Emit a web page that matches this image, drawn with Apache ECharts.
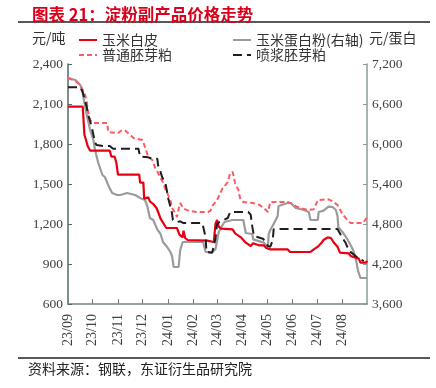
<!DOCTYPE html>
<html><head><meta charset="utf-8">
<script src="https://cdn.jsdelivr.net/npm/echarts@6/dist/echarts.min.js"></script>
<style>html,body{margin:0;padding:0;background:#fff}#c{width:436px;height:388px}</style>
</head><body><div id="c"></div>
<script>
// ---- Data ----
const monthTicks = ['2023-09-01','2023-10-01','2023-11-01','2023-12-01','2024-01-01','2024-02-01','2024-03-01','2024-04-01','2024-05-01','2024-06-01','2024-07-01','2024-08-01'];
const leftTicks = [600, 900, 1200, 1500, 1800, 2100, 2400];
const rightTicks = [3600, 4200, 4800, 5400, 6000, 6600, 7200];

// 玉米白皮 (left axis, 元/吨)
const redDates = ['2023-09-01','2023-09-19','2023-09-21','2023-09-23','2023-09-25','2023-09-28','2023-10-22','2023-10-24','2023-10-28','2023-10-30','2023-10-31','2023-11-01','2023-11-27','2023-11-28','2023-12-02','2023-12-03','2023-12-08','2023-12-10','2023-12-14','2023-12-18','2023-12-20','2023-12-23','2023-12-26','2023-12-30','2024-01-12','2024-01-15','2024-01-19','2024-01-20','2024-01-22','2024-01-25','2024-02-18','2024-02-26','2024-02-28','2024-03-01','2024-03-03','2024-03-06','2024-03-20','2024-03-23','2024-03-30','2024-04-05','2024-04-11','2024-04-14','2024-04-21','2024-04-27','2024-04-30','2024-05-05','2024-05-26','2024-05-29','2024-06-23','2024-06-27','2024-07-02','2024-07-06','2024-07-09','2024-07-14','2024-07-18','2024-07-21','2024-07-26','2024-07-29','2024-08-09','2024-08-11','2024-08-16','2024-08-21','2024-08-23','2024-08-30','2024-08-31'];
const redValues = [2080,2080,1870,1830,1785,1750,1750,1705,1705,1660,1660,1570,1570,1510,1510,1390,1400,1370,1350,1320,1290,1240,1210,1170,1170,1120,1100,1150,1095,1080,1075,1065,1200,1230,1180,1165,1160,1130,1100,1060,1035,1055,1040,1040,1020,1010,1010,990,990,1010,1030,1055,1080,1100,1095,1065,1030,985,980,960,950,940,910,910,925];

// 玉米蛋白粉 (right axis)
const grayDates = ['2023-09-01','2023-09-10','2023-09-16','2023-09-19','2023-09-21','2023-09-24','2023-09-28','2023-10-02','2023-10-04','2023-10-08','2023-10-13','2023-10-16','2023-10-22','2023-10-25','2023-10-31','2023-11-04','2023-11-06','2023-11-12','2023-11-22','2023-11-28','2023-12-04','2023-12-07','2023-12-10','2023-12-14','2023-12-19','2023-12-23','2023-12-26','2023-12-31','2024-01-04','2024-01-06','2024-01-08','2024-01-14','2024-01-16','2024-01-19','2024-02-13','2024-02-16','2024-02-24','2024-02-28','2024-03-03','2024-03-07','2024-03-10','2024-03-20','2024-04-02','2024-04-05','2024-04-13','2024-04-14','2024-04-27','2024-05-02','2024-05-03','2024-05-05','2024-05-09','2024-05-14','2024-05-15','2024-05-26','2024-05-30','2024-06-05','2024-06-15','2024-06-21','2024-06-23','2024-07-02','2024-07-03','2024-07-09','2024-07-15','2024-07-20','2024-07-24','2024-07-26','2024-07-27','2024-08-01','2024-08-05','2024-08-09','2024-08-14','2024-08-17','2024-08-20','2024-08-23','2024-08-31'];
const grayValues = [6990,6960,6885,6765,6615,6435,6210,6060,5910,5715,5535,5505,5330,5265,5235,5235,5265,5265,5235,5190,5160,5060,4890,4860,4720,4650,4530,4455,4380,4320,4155,4155,4410,4530,4530,4380,4380,4420,4680,4770,4830,4860,4860,4665,4650,4570,4520,4455,4650,4710,4800,4920,5070,5115,5115,5040,5010,4980,4860,4860,4980,5000,5060,5055,5010,4920,4750,4680,4610,4530,4410,4300,4100,3990,3990];

// 普通胚芽粕 (left axis)
const pinkDates = ['2023-09-01','2023-09-10','2023-09-16','2023-09-19','2023-09-22','2023-09-24','2023-09-25','2023-09-28','2023-10-02','2023-10-19','2023-10-20','2023-11-01','2023-11-06','2023-11-10','2023-11-16','2023-11-20','2023-12-01','2023-12-04','2023-12-08','2023-12-13','2023-12-16','2023-12-20','2023-12-26','2023-12-29','2024-01-01','2024-01-04','2024-01-06','2024-01-10','2024-01-12','2024-01-15','2024-01-16','2024-01-20','2024-01-26','2024-02-06','2024-02-19','2024-02-22','2024-02-25','2024-03-01','2024-03-05','2024-03-07','2024-03-14','2024-03-17','2024-03-20','2024-03-21','2024-03-23','2024-03-27','2024-03-29','2024-04-02','2024-04-14','2024-04-21','2024-04-27','2024-05-02','2024-05-05','2024-05-26','2024-05-30','2024-06-07','2024-06-20','2024-06-27','2024-07-02','2024-07-15','2024-07-20','2024-07-26','2024-08-01','2024-08-07','2024-08-11','2024-08-26','2024-08-30','2024-08-31'];
const pinkValues = [2295,2272,2242,2205,2165,2115,2055,1980,1957,1957,1890,1882,1905,1900,1867,1845,1830,1777,1702,1680,1627,1582,1510,1460,1420,1380,1320,1282,1252,1340,1357,1315,1300,1290,1290,1300,1342,1380,1432,1460,1515,1582,1590,1575,1507,1455,1395,1365,1357,1345,1320,1290,1365,1365,1355,1327,1305,1310,1380,1385,1370,1342,1275,1230,1207,1207,1240,1245];

// 喷浆胚芽粕 (left axis)
const blackDates = ['2023-09-01','2023-09-16','2023-09-19','2023-09-22','2023-09-24','2023-09-25','2023-09-28','2023-09-30','2023-10-02','2023-10-04','2023-10-06','2023-10-14','2023-10-22','2023-10-26','2023-11-26','2023-11-28','2023-12-08','2023-12-13','2023-12-19','2023-12-20','2023-12-23','2023-12-25','2023-12-29','2023-12-31','2024-01-01','2024-01-04','2024-01-06','2024-01-07','2024-01-12','2024-01-16','2024-01-20','2024-02-12','2024-02-14','2024-02-16','2024-02-17','2024-02-24','2024-02-26','2024-02-28','2024-03-01','2024-03-04','2024-03-14','2024-03-17','2024-04-08','2024-04-11','2024-04-13','2024-04-15','2024-04-26','2024-04-29','2024-05-02','2024-05-05','2024-05-08','2024-05-09','2024-05-14','2024-07-26','2024-07-27','2024-08-01','2024-08-05','2024-08-09','2024-08-11','2024-08-17','2024-08-23','2024-08-27'];
const blackValues = [2225,2225,2190,2115,2077,2032,1970,1927,1870,1810,1792,1785,1785,1765,1765,1705,1700,1690,1690,1640,1590,1550,1505,1440,1400,1330,1280,1230,1215,1220,1207,1207,1195,1100,990,985,1000,1090,1200,1215,1245,1290,1290,1270,1180,1110,1090,1065,1035,1030,1080,1160,1162,1162,1150,1095,1057,1000,990,960,937,922];

// ---- Build ----
function ts(s){ const p = s.split('-').map(Number); return new Date(p[0], p[1]-1, p[2]).getTime(); }
function zip(d, v){ return d.map((x, i) => [ts(x), v[i]]); }
const DAY = 864e5;

const serif = '"Liberation Serif","DejaVu Serif",serif';
const cjk = '"Noto Sans CJK SC","Noto Sans",sans-serif';

const legendBase = {orient: 'vertical', top: 28, itemWidth: 18, itemHeight: 10, itemGap: 1,
  itemStyle: {opacity: 0}, textStyle: {fontSize: 14, color: '#333', fontFamily: cjk}};

const chart = echarts.init(document.getElementById('c'), null, {renderer: 'canvas'});
chart.setOption({
  backgroundColor: '#fff',
  animation: false,
  title: {
    text: '图表 21：淀粉副产品价格走势',
    left: 27, top: 1,
    textStyle: {fontSize: 16.5, fontWeight: 'bold', color: '#d9001b', fontFamily: cjk}
  },
  legend: [
    Object.assign({data: ['玉米白皮', '普通胚芽粕'], left: 73}, legendBase),
    Object.assign({data: ['玉米蛋白粉(右轴)', '喷浆胚芽粕'], left: 227}, legendBase)
  ],
  grid: {left: 68, right: 69, top: 64, bottom: 84},
  xAxis: {
    type: 'time',
    min: ts(monthTicks[0]), max: ts('2024-08-31'),
    splitNumber: 12, minInterval: 28 * DAY, maxInterval: 31 * DAY,
    axisLine: {lineStyle: {color: '#6f8585', width: 1.5}},
    axisTick: {inside: true, length: 5, lineStyle: {color: '#6f8585'}},
    splitLine: {show: false},
    axisLabel: {
      rotate: 90, margin: 10, fontSize: 14, color: '#404040', fontFamily: serif,
      formatter: function (v) { const d = new Date(v); return String(d.getFullYear()).slice(2) + '/' + String(d.getMonth() + 1).padStart(2, '0'); }
    }
  },
  yAxis: [
    {type: 'value', position: 'left', min: leftTicks[0], max: leftTicks[leftTicks.length-1], interval: leftTicks[1]-leftTicks[0],
     axisLine: {show: true, lineStyle: {color: '#4f6a66', width: 1.5}},
     axisTick: {show: true, inside: true, length: 4, lineStyle: {color: '#4f6a66'}},
     splitLine: {show: false},
     axisLabel: {margin: 5, fontSize: 13.5, color: '#404040', fontFamily: serif, formatter: v => v.toLocaleString('en-US')}},
    {type: 'value', position: 'right', min: rightTicks[0], max: rightTicks[rightTicks.length-1], interval: rightTicks[1]-rightTicks[0],
     axisLine: {show: true, lineStyle: {color: '#8a9c9c', width: 1.5}},
     axisTick: {show: true, inside: true, length: 4, lineStyle: {color: '#8a9c9c'}},
     splitLine: {show: false},
     axisLabel: {margin: 5, fontSize: 13.5, color: '#404040', fontFamily: serif, formatter: v => v.toLocaleString('en-US')}}
  ],
  graphic: [
    {type: 'line', shape: {x1: 18, y1: 22, x2: 430, y2: 22}, style: {stroke: '#222', lineWidth: 1.5}},
    {type: 'line', shape: {x1: 18, y1: 358, x2: 430, y2: 358}, style: {stroke: '#222', lineWidth: 1.5}},
    {type: 'text', left: 32, top: 31, style: {text: '元/吨', fill: '#333', font: '14px ' + cjk}},
    {type: 'text', left: 369, top: 31, style: {text: '元/蛋白', fill: '#333', font: '14px ' + cjk}},
    {type: 'text', left: 28, top: 362, style: {text: '资料来源：钢联，东证衍生品研究院', fill: '#222', font: '14px ' + cjk}}
  ],
  series: [
    {name: '玉米蛋白粉(右轴)', type: 'line', yAxisIndex: 1, symbol: 'none', z: 2,
     lineStyle: {color: '#9b9b9b', width: 2.2}, itemStyle: {color: '#9b9b9b'}, data: zip(grayDates, grayValues)},
    {name: '普通胚芽粕', type: 'line', yAxisIndex: 0, symbol: 'none', z: 3,
     lineStyle: {color: '#ff5a62', width: 2, type: [5, 3]}, itemStyle: {color: '#ff5a62'}, data: zip(pinkDates, pinkValues)},
    {name: '玉米白皮', type: 'line', yAxisIndex: 0, symbol: 'none', z: 4,
     lineStyle: {color: '#e60012', width: 2.2}, itemStyle: {color: '#e60012'}, data: zip(redDates, redValues)},
    {name: '喷浆胚芽粕', type: 'line', yAxisIndex: 0, symbol: 'none', z: 5,
     lineStyle: {color: '#1e1e1e', width: 2, type: [9, 5]}, itemStyle: {color: '#1e1e1e'}, data: zip(blackDates, blackValues)}
  ]
});
</script></body></html>
